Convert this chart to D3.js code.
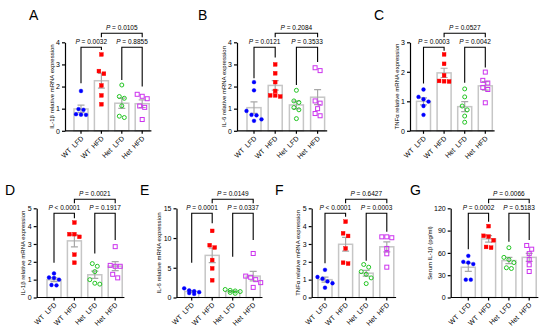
<!DOCTYPE html>
<html>
<head>
<meta charset="utf-8">
<script src="https://cdn.jsdelivr.net/npm/d3@7"></script>
<style>
body { margin: 0; background: #fff; }
svg { display: block; font-family: "Liberation Sans", Arial, Helvetica, sans-serif; }
</style>
</head>
<body>
<svg id="chart" width="550" height="332"></svg>
<script>
const groups = ['WT  LFD', 'WT  HFD', 'Het  LFD', 'Het  HFD']
const colors = ['#0000ff', '#ff0000', '#22c522', '#cc33ee']

// A - IL-1b mRNA
const aWtLfd = [1.8, 0.98, 0.95, 0.75, 0.73, 0.72]
const aWtHfd = [3.45, 2.7, 2.58, 2.05, 1.6, 1.2]
const aHetLfd = [2.07, 1.55, 1.47, 1.13, 0.66, 0.6]
const aHetHfd = [1.65, 1.56, 1.45, 1.12, 1.06, 0.51]
const pA = ['= 0.0032', '= 0.8855', '= 0.0105']
const legsA = [2.15, 3.65, 2.3, 2.0]

// B - IL-6 mRNA
const bWtLfd = [2.2, 1.83, 0.9, 0.72, 0.7, 0.52, 0.45]
const bWtHfd = [3.0, 2.6, 2.2, 1.8, 1.6, 1.6, 1.55]
const bHetLfd = [1.83, 1.35, 1.28, 1.05, 0.95, 0.55]
const bHetHfd = [2.85, 2.72, 1.35, 1.25, 1.0, 0.78, 0.68]
const pB = ['= 0.0121', '= 0.3533', '= 0.2084']
const legsB = [2.38, 3.31, 2.07, 3.11]

// C - TNFa mRNA
const cWtLfd = [1.4, 1.15, 1.07, 0.99, 0.84, 0.54]
const cWtHfd = [2.59, 2.27, 1.88, 1.69, 1.68, 1.67]
const cHetLfd = [1.42, 1.15, 0.84, 0.71, 0.5, 0.29]
const cHetHfd = [1.99, 1.71, 1.62, 1.47, 1.4, 0.95]
const pC = ['= 0.0003', '= 0.0042', '= 0.0527']
const legsC = [1.6, 2.71, 1.63, 2.15]

// D - IL-1b mRNA
const dWtLfd = [1.35, 1.12, 1.1, 1.0, 0.7, 0.68]
const dWtHfd = [4.2, 3.55, 3.55, 3.4, 2.4, 1.95]
const dHetLfd = [1.9, 1.75, 1.45, 1.0, 0.8, 0.75]
const dHetHfd = [2.85, 1.8, 1.75, 1.75, 1.3, 1.1]
const pD = ['< 0.0001', '= 0.1917', '= 0.0021']
const legsD = [1.95, 4.44, 2.47, 3.22]

// E - IL-6 mRNA
const eWtLfd = [1.55, 1.2, 1.05, 0.9, 0.75, 0.6]
const eWtHfd = [11.2, 8.8, 8.4, 6.3, 4.9, 2.9]
const eHetLfd = [1.35, 1.2, 1.1, 1.0, 0.85, 0.7]
const eHetHfd = [7.4, 3.6, 3.4, 3.0, 2.5, 1.7]
const pE = ['= 0.0001', '= 0.0337', '= 0.0149']
const legsE = [5.85, 12.5, 6.86, 9.66]

// F - TNFa mRNA
const fWtLfd = [1.55, 1.15, 1.05, 0.9, 0.8, 0.55]
const fWtHfd = [4.25, 3.6, 3.45, 2.75, 1.95, 1.9]
const fHetLfd = [1.85, 1.7, 1.45, 1.3, 1.1, 0.78]
const fHetHfd = [3.4, 3.4, 3.35, 2.75, 2.45, 1.7]
const pF = ['< 0.0001', '= 0.0003', '= 0.6427']
const legsF = [1.92, 4.52, 2.06, 3.69]

// G - serum IL-1b
const gWtLfd = [56, 48, 47, 45, 24, 24]
const gWtHfd = [96, 83, 82, 77, 67, 68]
const gHetLfd = [67, 54, 51, 47, 40, 39]
const gHetHfd = [70, 65, 59, 51, 44, 35]
const pG = ['= 0.0002', '= 0.5183', '= 0.0066']
const legsG = [64.9, 102, 75, 77.4]

const panels = [
    {letter: 'A', lx: 29, ly: 19.5, x0: 65, c0: 81, step: 20.4, top: 42.3, bottom: 130.8, max: 4, tick: 1,
     title: 'IL-1β relative mRNA expression', sets: [aWtLfd, aWtHfd, aHetLfd, aHetHfd], p: pA, legs: legsA},
    {letter: 'B', lx: 198, ly: 19.5, x0: 237, c0: 254, step: 21.2, top: 42.3, bottom: 130.8, max: 4, tick: 1,
     title: 'IL-6 relative mRNA expression', sets: [bWtLfd, bWtHfd, bHetLfd, bHetHfd], p: pB, legs: legsB},
    {letter: 'C', lx: 374, ly: 19.5, x0: 410, c0: 423.5, step: 20.6, top: 42.3, bottom: 130.8, max: 3, tick: 1,
     title: 'TNFα relative mRNA expression', sets: [cWtLfd, cWtHfd, cHetLfd, cHetHfd], p: pC, legs: legsC},
    {letter: 'D', lx: 5, ly: 195, x0: 36.7, c0: 54, step: 20.4, top: 208.3, bottom: 297.5, max: 5, tick: 1,
     title: 'IL-1β relative mRNA expression', sets: [dWtLfd, dWtHfd, dHetLfd, dHetHfd], p: pD, legs: legsD},
    {letter: 'E', lx: 140, ly: 195, x0: 176.5, c0: 191.7, step: 20.5, top: 208.3, bottom: 297.5, max: 15, tick: 5,
     title: 'IL-6 relative mRNA expression', sets: [eWtLfd, eWtHfd, eHetLfd, eHetHfd], p: pE, legs: legsE},
    {letter: 'F', lx: 275, ly: 195, x0: 311.7, c0: 325, step: 20.6, top: 208.3, bottom: 297.5, max: 5, tick: 1,
     title: 'TNFα relative mRNA expression', sets: [fWtLfd, fWtHfd, fHetLfd, fHetHfd], p: pF, legs: legsF},
    {letter: 'G', lx: 410, ly: 195, x0: 450.7, c0: 468.3, step: 20.3, top: 208.3, bottom: 297.5, max: 120, tick: 30,
     title: 'Serum IL-1β (pg/ml)', sets: [gWtLfd, gWtHfd, gHetLfd, gHetHfd], p: pG, legs: legsG}
]

const svg = d3.select('#chart')

// spread points that sit at about the same height into rows
function swarm(vals, y)
{
    let pts = vals.map(v => ({v: v, py: y(v)})).sort((a, b) => a.py - b.py)
    let rows = [], cur = []
    pts.forEach(pt =>
    {
        if (cur.length && (pt.py - cur[cur.length - 1].py > 4 || cur.length >= 4))
        {
            rows.push(cur)
            cur = []
        }
        cur.push(pt)
    })
    if (cur.length) rows.push(cur)
    rows.forEach(r => r.forEach((pt, k) => pt.dx = (k - (r.length - 1) / 2) * 5))
    return pts
}

function drawPanel(p)
{
    let g = svg.append('g')
    let pi = 1 - 14 / p.step

    let x = d3.scaleBand()
        .domain(groups)
        .range([p.c0 - p.step / 2, p.c0 + 3.5 * p.step])
        .paddingInner(pi)
        .paddingOuter(pi / 2)
    let y = d3.scaleLinear().domain([0, p.max]).range([p.bottom, p.top])
    let cx = k => x(k) + x.bandwidth() / 2

    let stats = p.sets.map((vals, i) => ({
        key: groups[i], i: i, vals: vals,
        m: d3.mean(vals),
        sem: d3.deviation(vals) / Math.sqrt(vals.length)
    }))

    // bars
    g.selectAll('rect.bar')
        .data(stats)
        .join('rect')
        .attr('class', 'bar')
        .attr('x', d => x(d.key))
        .attr('y', d => y(d.m))
        .attr('width', x.bandwidth())
        .attr('height', d => y(0) - y(d.m))
        .attr('fill', '#fff')
        .attr('stroke', '#c6c6c6')
        .attr('stroke-width', 1.5)

    // error bars (mean +/- SEM)
    g.selectAll('path.err')
        .data(stats)
        .join('path')
        .attr('class', 'err')
        .attr('d', d =>
        {
            let c = cx(d.key), hi = y(d.m + d.sem), lo = y(d.m - d.sem)
            return `M${c - 3.5},${hi}H${c + 3.5}M${c},${hi}V${lo}M${c - 3.5},${lo}H${c + 3.5}`
        })
        .attr('fill', 'none')
        .attr('stroke', '#a8a8a8')
        .attr('stroke-width', 1.2)

    // points
    stats.forEach(d =>
    {
        let pts = swarm(d.vals, y)
        let c = cx(d.key)
        let col = colors[d.i]
        let sel = g.append('g')
        if (d.i === 0 || d.i === 2)
        {
            sel.selectAll('circle')
                .data(pts)
                .join('circle')
                .attr('cx', pt => c + pt.dx)
                .attr('cy', pt => pt.py)
                .attr('r', d.i === 0 ? 1.9 : 2)
                .attr('fill', d.i === 0 ? col : 'none')
                .attr('stroke', col)
                .attr('stroke-width', d.i === 0 ? 0.4 : 1)
        }
        else
        {
            let s = d.i === 1 ? 3.8 : 4
            sel.selectAll('rect')
                .data(pts)
                .join('rect')
                .attr('x', pt => c + pt.dx - s / 2)
                .attr('y', pt => pt.py - s / 2)
                .attr('width', s)
                .attr('height', s)
                .attr('fill', d.i === 1 ? col : 'none')
                .attr('stroke', col)
                .attr('stroke-width', d.i === 1 ? 0.4 : 1)
        }
    })

    // axes
    let yAxis = g.append('g')
        .attr('transform', `translate(${p.x0},0)`)
        .call(d3.axisLeft(y)
            .tickValues(d3.range(0, p.max + p.tick / 2, p.tick))
            .tickFormat(d3.format('d'))
            .tickSize(3)
            .tickSizeOuter(0)
            .tickPadding(2))

    let xAxis = g.append('g')
        .attr('transform', `translate(0,${p.bottom})`)
        .call(d3.axisBottom(x).tickSize(3).tickSizeOuter(0))

    xAxis.select('.domain').attr('d', `M${p.x0},0H${x.range()[1] - 1}`)

    ;[xAxis, yAxis].forEach(a =>
    {
        a.attr('font-family', null).attr('font-size', null)
        a.selectAll('.domain, .tick line').attr('stroke', '#000').attr('stroke-width', 1.2)
        a.selectAll('text').attr('font-size', 7).attr('fill', '#000')
    })

    xAxis.selectAll('.tick text')
        .attr('x', 0)
        .attr('y', 0)
        .attr('dy', 0)
        .attr('transform', 'translate(3,8) rotate(-45)')
        .style('text-anchor', 'end')
        .style('white-space', 'pre')

    // y title
    let labelW = d3.max(yAxis.selectAll('.tick text').nodes(), n => n.getComputedTextLength())
    g.append('text')
        .attr('transform', `translate(${p.x0 - 5 - labelW - 2.5},${(p.top + p.bottom) / 2}) rotate(-90)`)
        .attr('text-anchor', 'middle')
        .attr('font-size', 6)
        .text(p.title)

    // panel letter
    g.append('text')
        .attr('x', p.lx)
        .attr('y', p.ly)
        .attr('font-size', 14)
        .text(p.letter)

    // significance brackets
    let brackets = [
        {a: 0, b: 1, ya: y(p.legs[0]), yb: y(p.legs[1]), level: p.top + 5, text: p.p[0]},
        {a: 2, b: 3, ya: y(p.legs[2]), yb: y(p.legs[3]), level: p.top + 5, text: p.p[1]},
        {a: 1, b: 3, ya: p.top - 5, yb: p.top - 5, level: p.top - 9, text: p.p[2]}
    ]

    brackets.forEach(br =>
    {
        let xa = cx(groups[br.a]), xb = cx(groups[br.b])
        g.append('path')
            .attr('d', `M${xa},${br.ya}V${br.level}H${xb}V${br.yb}`)
            .attr('fill', 'none')
            .attr('stroke', '#000')
            .attr('stroke-width', 1.1)

        let t = g.append('text')
            .attr('x', (xa + xb) / 2)
            .attr('y', br.level - 3)
            .attr('text-anchor', 'middle')
            .attr('font-size', 6.5)
        t.append('tspan').attr('font-style', 'italic').text('P')
        t.append('tspan').text(' ' + br.text)
    })
}

panels.forEach(drawPanel)
</script>
</body>
</html>
